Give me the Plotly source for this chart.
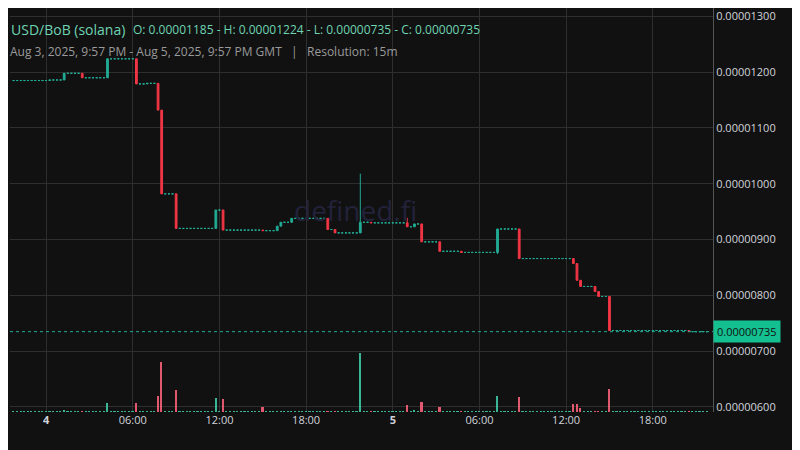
import pandas as pd
import plotly.graph_objects as go

# price changes (15m candles), prices in 1e-6 USD; flat candles carry the last close
start_price = 11.85
ev_time = ['2025-08-04 00:15', '2025-08-04 01:15', '2025-08-04 02:30', '2025-08-04 04:15',
           '2025-08-04 06:15', '2025-08-04 07:00', '2025-08-04 07:45', '2025-08-04 08:00',
           '2025-08-04 09:00', '2025-08-04 11:45', '2025-08-04 12:15', '2025-08-04 15:00',
           '2025-08-04 16:00', '2025-08-04 16:15', '2025-08-04 17:00', '2025-08-04 19:30',
           '2025-08-04 20:00', '2025-08-04 21:45', '2025-08-04 22:30', '2025-08-05 01:00',
           '2025-08-05 01:30', '2025-08-05 02:00', '2025-08-05 03:15', '2025-08-05 04:45',
           '2025-08-05 07:15', '2025-08-05 08:45', '2025-08-05 12:30', '2025-08-05 12:45',
           '2025-08-05 13:00', '2025-08-05 14:00', '2025-08-05 14:15', '2025-08-05 15:00',
           '2025-08-05 20:30']
ev_close = [11.86, 11.98, 11.90, 12.24, 11.79, 11.80, 11.32, 9.82, 9.20, 9.53, 9.17, 9.16,
            9.24, 9.31, 9.38, 9.18, 9.12, 9.31, 9.30, 9.23, 9.28, 8.96, 8.79, 8.77,
            9.19, 8.66, 8.57, 8.27, 8.16, 8.07, 7.98, 7.37, 7.35]
wick_high = {'2025-08-04 21:45': 10.18, '2025-08-05 01:00': 9.39}
wick_low = {'2025-08-05 07:15': 8.74}

# volume (relative units)
vol_time = ['2025-08-04 01:15', '2025-08-04 04:15', '2025-08-04 06:15', '2025-08-04 07:00',
            '2025-08-04 07:45', '2025-08-04 08:00', '2025-08-04 09:00', '2025-08-04 11:45',
            '2025-08-04 12:15', '2025-08-04 15:00', '2025-08-04 16:00', '2025-08-04 19:30',
            '2025-08-04 20:00', '2025-08-04 21:45', '2025-08-04 22:30', '2025-08-05 01:00',
            '2025-08-05 01:30', '2025-08-05 02:00', '2025-08-05 03:15', '2025-08-05 07:15',
            '2025-08-05 08:45', '2025-08-05 12:30', '2025-08-05 12:45', '2025-08-05 13:00',
            '2025-08-05 14:15', '2025-08-05 15:00']
vol_value = [2, 9, 9, 1, 16, 50, 22, 14, 13, 5, 1, 1, 1, 59, 1, 7, 2, 10, 5, 16, 15, 8, 8, 4, 1, 23]
base_vol = 0.6

times = pd.date_range('2025-08-03 21:45', '2025-08-05 21:45', freq='15min')
ev = dict(zip(pd.to_datetime(ev_time), ev_close))
vol = dict(zip(pd.to_datetime(vol_time), vol_value))
rows = []
last = start_price
for t in times:
    key = t.strftime('%Y-%m-%d %H:%M')
    new = ev.get(t, last)
    rows.append(dict(t=t, o=last * 1e-6, c=new * 1e-6,
                     h=max(last, new, wick_high.get(key, 0)) * 1e-6,
                     l=min(last, new, wick_low.get(key, 99)) * 1e-6,
                     v=vol.get(t, base_vol)))
    last = new
df = pd.DataFrame(rows)
flat = df[df.o == df.c]
moving = df[df.o != df.c]

UP, DOWN = '#22ab94', '#f23645'
vol_colors = ['#f7607a' if cc < oo else '#3fc7a5' for oo, cc in zip(df.o, df.c)]

fig = go.Figure()
fig.add_trace(go.Bar(x=df.t, y=df.v, marker_color=vol_colors, marker_line_width=0,
                     width=15 * 60 * 1000 * 0.45, yaxis='y2', opacity=0.9))
fig.add_trace(go.Candlestick(x=flat.t, open=flat.o, high=flat.h, low=flat.l, close=flat.c,
                             increasing=dict(line=dict(color=UP, width=1), fillcolor=UP),
                             decreasing=dict(line=dict(color=UP, width=1), fillcolor=UP),
                             whiskerwidth=0))
fig.add_trace(go.Candlestick(x=moving.t, open=moving.o, high=moving.h, low=moving.l, close=moving.c,
                             increasing=dict(line=dict(color=UP, width=1), fillcolor=UP),
                             decreasing=dict(line=dict(color=DOWN, width=1), fillcolor=DOWN),
                             whiskerwidth=0))

last_close = df.c.iloc[-1]
fig.add_shape(type='line', xref='paper', x0=0, x1=1, y0=last_close, y1=last_close,
              line=dict(color='#22ab94', width=1, dash='dot'))

tick_vals = pd.to_datetime(['2025-08-04 00:00', '2025-08-04 06:00', '2025-08-04 12:00', '2025-08-04 18:00',
                            '2025-08-05 00:00', '2025-08-05 06:00', '2025-08-05 12:00', '2025-08-05 18:00'])
tick_text = ['<b>4</b>', '06:00', '12:00', '18:00', '<b>5</b>', '06:00', '12:00', '18:00']
price_ticks = [6e-6, 7e-6, 8e-6, 9e-6, 10e-6, 11e-6, 12e-6, 13e-6]
price_text = ['0.00000600', '0.00000700', '0.00000800', '0.00000900',
              '0.00001000', '0.00001100', '0.00001200', '0.00001300']


def px(x, y):
    # page pixel -> paper coords (plot spans x 10..713, y 8..412 on the page)
    return (x - 10) / 703, (412 - y) / 404


fig.update_layout(
    width=792, height=442, showlegend=False,
    paper_bgcolor='#111111', plot_bgcolor='#111111',
    margin=dict(l=2, r=87, t=0, b=38),
    font=dict(family='Open Sans', color='#d1d4dc', size=11),
    xaxis=dict(rangeslider=dict(visible=False), type='date',
               range=[pd.Timestamp('2025-08-03 21:30'), pd.Timestamp('2025-08-05 22:10')],
               tickvals=tick_vals, ticktext=tick_text, showgrid=True, gridcolor='#2e2e2e',
               zeroline=False, ticks='', tickfont=dict(size=11, color='#d1d4dc')),
    yaxis=dict(side='right', range=[5.91e-6, 13.15e-6], tickvals=price_ticks, ticktext=price_text,
               showgrid=True, gridcolor='#2e2e2e', zeroline=False, automargin=False,
               showline=True, linecolor='#555', tickfont=dict(size=11, color='#d1d4dc')),
    yaxis2=dict(overlaying='y', range=[0, 404], visible=False),
    bargap=0,
)

fig.add_annotation(text='defined.fi', x=px(355, 210)[0], y=px(355, 210)[1], xref='paper', yref='paper',
                   showarrow=False, font=dict(size=28, color='#22223a'))
fig.add_annotation(text='USD/BoB (solana)', x=px(9, 18)[0], y=px(9, 18)[1], xref='paper', yref='paper',
                   showarrow=False, xanchor='left', font=dict(size=14, color='#6fd4b2'))
fig.add_annotation(text='O: 0.00001185 - H: 0.00001224 - L: 0.00000735 - C: 0.00000735',
                   x=px(131, 19)[0], y=px(131, 19)[1], xref='paper', yref='paper', showarrow=False,
                   xanchor='left', font=dict(size=12, color='#6fd4b2'))
fig.add_annotation(text='Aug 3, 2025, 9:57 PM - Aug 5, 2025, 9:57 PM GMT   |   Resolution: 15m',
                   x=px(8, 41)[0], y=px(8, 41)[1], xref='paper', yref='paper', showarrow=False,
                   xanchor='left', font=dict(size=12, color='#9a9a9a'))
fig.add_annotation(text='0.00000735', x=1, y=last_close, xref='paper', yref='y', showarrow=False,
                   xanchor='left', bgcolor='#14c08f', font=dict(size=11, color='#111111'), borderpad=3)
fig.write_html('out.html')
